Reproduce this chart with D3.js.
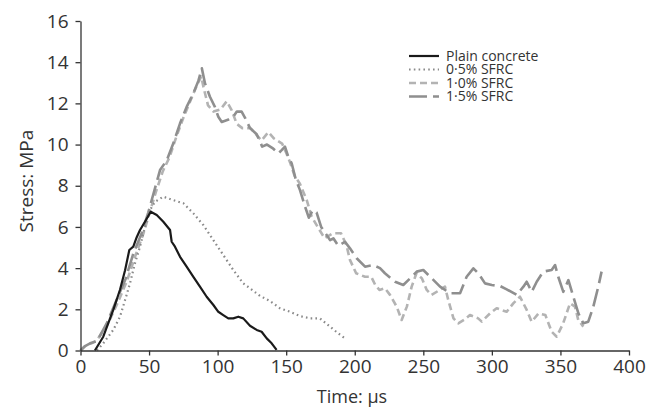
<!DOCTYPE html>
<html>
<head>
<meta charset="utf-8">
<script src="https://cdn.jsdelivr.net/npm/d3@7"></script>
<style>
  html, body { margin: 0; padding: 0; background: #fff; }
  svg { display: block; }
  text { font-family: "Open Sans", "Noto Sans", sans-serif; fill: #333; }
</style>
</head>
<body>
<svg id="chart" width="647" height="414"></svg>
<script>
// ---- Data (time µs, stress MPa) ----
const xTicks = [0, 50, 100, 150, 200, 250, 300, 350, 400];
const yTicks = [0, 2, 4, 6, 8, 10, 12, 14, 16];
const seriesNames = ["Plain concrete", "0\u00B75% SFRC", "1\u00B70% SFRC", "1\u00B75% SFRC"];

const plain = [
  [10.5,0],[16.6,0.67],[23.9,1.97],[28.8,2.95],[32.5,3.9],[35.6,4.88],[38.5,5.04],[41,5.5],
  [43.4,5.85],[47,6.25],[51.2,6.74],[55.6,6.58],[60.4,6.25],[65.3,5.85],[66.5,5.28],[68.9,5.04],
  [72.6,4.55],[77.4,4.07],[82.3,3.58],[87.1,3.1],[92,2.61],[96.9,2.21],[100.5,1.88],[104.1,1.72],
  [107.8,1.56],[111.4,1.56],[115.1,1.64],[118.7,1.56],[123.6,1.2],[128.5,1.0],[132.1,0.91],
  [135.8,0.59],[139.4,0.35],[143,0.03]
];
const sfrc05 = [
  [12,0],[16.6,0.35],[23.9,1.0],[28.8,1.64],[32.5,2.45],[36.1,3.26],[39.7,4.23],[43.4,5.04],
  [47,6.0],[50.7,6.82],[54.3,7.22],[60.4,7.47],[67.7,7.3],[75,7.15],[82.3,6.66],[89.6,6.09],
  [96.9,5.36],[104.1,4.64],[111.4,3.91],[118.7,3.26],[124,3.0],[130.9,2.65],[138.2,2.4],
  [145.5,2.05],[152.8,1.88],[160.1,1.67],[167.4,1.56],[174.6,1.56],[181.9,1.16],[188,0.83],[192.9,0.59]
];
const sfrc10 = [
  [0,0],[4,0.25],[8,0.35],[12,0.5],[20,1.3],[27,2.3],[34,3.4],[40,4.6],[46,5.7],[50,6.6],
  [55,7.7],[60,8.7],[65,9.4],[70,10.4],[75,11.3],[80,12.1],[85,12.9],[88,13.3],[90,12.7],
  [93,11.9],[97,11.6],[102,11.7],[106.6,12.1],[110,11.7],[114,11.0],[118,10.8],[124,10.8],
  [128,10.5],[132,10.2],[137,10.6],[141,10.3],[147,10.05],[150,9.6],[153,9.1],[156,8.5],
  [160,8.1],[165,7.3],[168.6,6.5],[173,6.0],[178,5.45],[184,5.69],[190,5.69],[194,5.1],
  [196.5,4.4],[201,3.75],[207.5,3.58],[212,3.58],[215,3.18],[218,2.94],[222,3.02],[225.7,2.7],
  [230.6,2.13],[234.2,1.48],[238,2.13],[241.5,3.1],[245,3.75],[249,3.5],[252.5,2.94],[256,2.7],
  [262,2.94],[265.8,3.1],[268.2,2.45],[272,1.56],[275.5,1.32],[280,1.5],[284,1.72],[290,1.56],
  [292.6,1.4],[298.6,1.8],[303.5,2.05],[310.8,1.88],[315.6,2.29],[320.5,2.61],[325.4,1.97],
  [329,1.4],[334,1.8],[339,1.72],[343.6,0.91],[347.3,0.67],[352,1.32],[357,2.29],[360.6,2.13],
  [363,1.48],[366.7,1.16]
];
const sfrc15 = [
  [0,0],[3,0.2],[7,0.35],[12,0.45],[19,1.3],[26,2.4],[33,3.5],[38.5,4.7],[44.6,5.7],[49.4,6.7],
  [54,7.8],[58,8.76],[63,9.25],[67.7,10.06],[72.6,11.03],[77.4,11.83],[82.3,12.49],[86,13.1],
  [88.5,13.7],[90.8,12.97],[94.4,12.32],[98,11.83],[100.5,11.35],[103,11.1],[107.5,11.2],
  [111.4,11.35],[114,11.6],[117.5,11.6],[120,11.3],[123.6,10.8],[128.5,10.5],[132.5,9.9],
  [136,10.0],[140.6,9.8],[144.3,9.57],[146.7,9.73],[149.1,9.9],[151.5,9.41],[154,9.09],
  [157,8.3],[160,7.8],[163.7,7.0],[166.5,6.45],[169.5,6.82],[172.2,6.7],[175.5,6.0],[182,5.36],
  [184.4,5.45],[188,5.08],[192.9,5.28],[196.5,4.96],[201.4,4.48],[207.5,4.07],[213.5,4.15],
  [218.4,4.0],[222,3.75],[229.4,3.34],[235.4,3.18],[240.3,3.5],[245.2,3.83],[250,3.91],
  [255,3.58],[262.2,3.1],[269.5,2.78],[276.8,2.78],[281.6,3.58],[286.5,3.99],[290.1,3.75],
  [295,3.26],[299.9,3.18],[306,3.13],[310.8,2.97],[318.1,2.7],[323,3.1],[325.4,3.34],
  [329.1,2.85],[332.7,3.34],[337.5,3.83],[343.6,3.91],[346.1,4.15],[348.4,3.58],[352.1,2.85],
  [355.8,3.42],[359.4,2.61],[363.1,1.8],[366.7,1.32],[370.3,1.4],[374,2.13],[377.6,3.1],[380,3.83]
];

// ---- Chart ----
const svg = d3.select("#chart");
const x = d3.scaleLinear().domain([0, 400]).range([80.5, 629]);
const y = d3.scaleLinear().domain([0, 16]).range([350.5, 21]);

const styles = [
  { data: plain,  color: "#1a1a1a", width: 2.2, dash: null },
  { data: sfrc05, color: "#8a8a8a", width: 2.2, dash: "1.6,3.2" },
  { data: sfrc10, color: "#b3b3b3", width: 2.6, dash: "7,4" },
  { data: sfrc15, color: "#8f8f8f", width: 2.6, dash: "18,6" }
];

const line = d3.line().x(d => x(d[0])).y(d => y(d[1]));

// draw order: 1.0%, 1.5%, 0.5%, plain
[2, 3, 1, 0].forEach(i => {
  const s = styles[i];
  svg.append("path")
    .datum(s.data)
    .attr("fill", "none")
    .attr("stroke", s.color)
    .attr("stroke-width", s.width)
    .attr("stroke-dasharray", s.dash)
    .attr("stroke-linejoin", "round")
    .attr("d", line);
});

// Axes
const xAxis = svg.append("g")
  .attr("transform", `translate(0,${y(0)})`)
  .call(d3.axisBottom(x).tickValues(xTicks).tickSize(5).tickPadding(4).tickSizeOuter(0));
const yAxis = svg.append("g")
  .attr("transform", `translate(${x(0)},0)`)
  .call(d3.axisLeft(y).tickValues(yTicks).tickSize(5).tickPadding(7).tickSizeOuter(0));

[xAxis, yAxis].forEach(g => {
  g.select(".domain").attr("stroke", "#333").attr("stroke-width", 1.3);
  g.selectAll(".tick line").attr("stroke", "#333").attr("stroke-width", 1.3);
  g.selectAll(".tick text")
    .attr("fill", "#333")
    .style("font-size", "19px")
    .style("font-family", "'Open Sans', sans-serif");
});

// Axis titles
svg.append("text")
  .attr("x", 352).attr("y", 403)
  .attr("text-anchor", "middle")
  .style("font-size", "18px")
  .text("Time: \u00B5s");

svg.append("text")
  .attr("transform", "translate(33,181) rotate(-90)")
  .attr("text-anchor", "middle")
  .style("font-size", "19px")
  .text("Stress: MPa");

// Legend
const legendY = [56, 69.5, 83, 96.5];
styles.forEach((s, i) => {
  svg.append("line")
    .attr("x1", 409).attr("x2", 439)
    .attr("y1", legendY[i]).attr("y2", legendY[i])
    .attr("stroke", s.color)
    .attr("stroke-width", s.width)
    .attr("stroke-dasharray", s.dash);
  svg.append("text")
    .attr("x", 446).attr("y", legendY[i])
    .attr("dy", "0.35em")
    .style("font-size", "14px")
    .text(seriesNames[i]);
});
</script>
</body>
</html>
